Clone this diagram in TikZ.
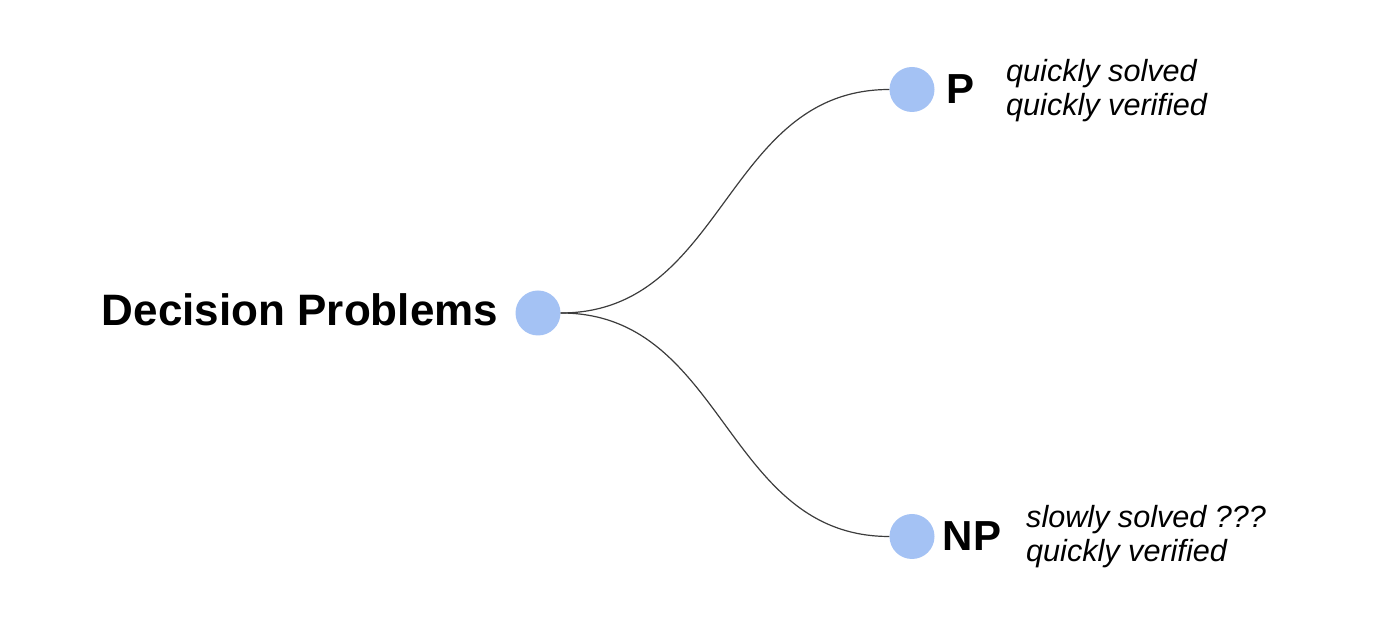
\documentclass[tikz,border=0pt]{standalone}
\usepackage{fontspec}
\setmainfont{Liberation Sans}
\usepackage{tikz}
\usetikzlibrary{trees,positioning}
\definecolor{dotblue}{HTML}{A4C2F4}
\definecolor{linegray}{HTML}{3C3C3C}

\begin{document}
\begin{tikzpicture}[x=1pt,y=1pt,
    dot/.style={circle, fill=dotblue, minimum size=45pt, inner sep=0pt},
    classname/.style={font=\fontsize{42}{50}\selectfont\bfseries, inner sep=0pt},
    note/.style={font=\fontsize{30.6}{34}\selectfont\itshape, align=left, inner sep=0pt, anchor=base west},
    edge from parent/.style={draw=linegray, line width=1.2pt},
    edge from parent path={(\tikzparentnode.east) .. controls +(165,0) and +(-165,0) .. (\tikzchildnode.west)},
    level distance=374pt, sibling distance=447pt, grow'=right]
    \useasboundingbox (0,0) rectangle (1400,620);
    \node [dot] (root) at (538,307) {}
      child {node [dot] (p) {}}
      child {node [dot] (np) {}}
        ;
    \node [classname, font=\fontsize{44}{52}\selectfont\bfseries, left=17pt of root, yshift=3pt] (title) {Decision Problems};
    \node [classname, right=12pt of p] (plabel) {P};
    \node [classname, right=8pt of np] (nplabel) {NP};
    \node [note] (pnote) at (1006,504) {quickly solved\\quickly verified};
    \node [note] (npnote) at (1026,58) {slowly solved ???\\quickly verified};
\end{tikzpicture}
\end{document}
